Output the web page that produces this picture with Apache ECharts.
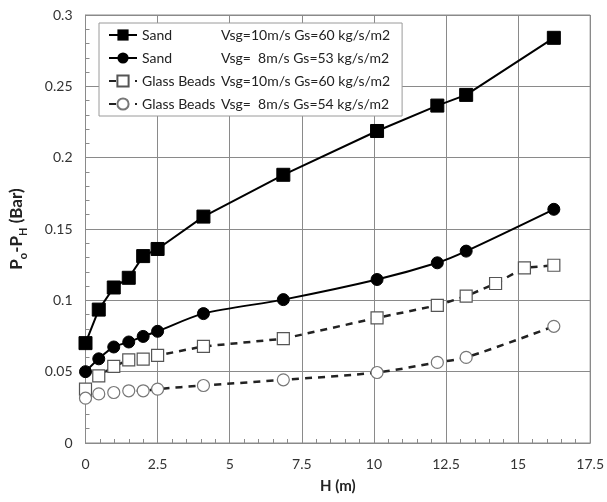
<!DOCTYPE html>
<html><head><meta charset="utf-8">
<script src="https://cdn.jsdelivr.net/npm/echarts@6/dist/echarts.min.js"></script>
<style>html,body{margin:0;padding:0;background:#fff}#c{width:607px;height:502px}</style>
</head><body><div id="c"></div>
<script>
var hMain = [0, 0.46, 0.98, 1.5, 2.0, 2.5, 4.09, 6.86, 10.11, 12.2, 13.2, 16.24];
var hGlass10 = [0, 0.46, 0.98, 1.5, 2.0, 2.5, 4.09, 6.86, 10.11, 12.2, 13.2, 14.22, 15.22, 16.24];
var sand10 = [0.070, 0.0935, 0.109, 0.1158, 0.131, 0.136, 0.1587, 0.188, 0.2187, 0.2365, 0.244, 0.284];
var sand8 = [0.050, 0.059, 0.0673, 0.0708, 0.0747, 0.0783, 0.0907, 0.1005, 0.1146, 0.1263, 0.1345, 0.1638];
var glass10 = [0.0378, 0.047, 0.0537, 0.0583, 0.0588, 0.0614, 0.0677, 0.0731, 0.0877, 0.0965, 0.1029, 0.1118, 0.1228, 0.1246];
var glass8 = [0.0314, 0.0344, 0.0354, 0.0366, 0.0366, 0.0378, 0.0403, 0.0443, 0.0494, 0.0565, 0.060, 0.0818];
var seriesMaterial = ['Sand', 'Sand', 'Glass Beads', 'Glass Beads'];
var seriesVsg = ['Vsg=10m/s', 'Vsg=  8m/s', 'Vsg=10m/s', 'Vsg=  8m/s'];
var seriesGs = ['Gs=60 kg/s/m2', 'Gs=53 kg/s/m2', 'Gs=60 kg/s/m2', 'Gs=54 kg/s/m2'];
var xTicks = {min: 0, max: 17.5, interval: 2.5};
var yTicks = {min: 0, max: 0.3, interval: 0.05};

function pairs(xs, ys){ return ys.map(function(v,i){ return [xs[i], v]; }); }
var names = seriesMaterial.map(function(m,i){ return m + '|' + seriesVsg[i] + '|' + seriesGs[i]; });
var FONT = 'Lato';

var chart = echarts.init(document.getElementById('c'), null, {renderer:'canvas'});
chart.setOption({
  animation: false,
  backgroundColor: '#fff',
  textStyle: {fontFamily: FONT},
  grid: {left: 85, right: 16, top: 15, bottom: 59, show: true, borderColor: '#8a8a8a', borderWidth: 1, containLabel: false},
  legend: {
    orient: 'vertical', left: 99, top: 23,
    backgroundColor: '#fff', borderColor: '#9a9a9a', borderWidth: 1,
    padding: [5, 12, 5, 9], itemGap: 9, itemWidth: 28, itemHeight: 14,
    data: names,
    formatter: function(n){
      var p = n.split('|');
      return '{a|' + p[0] + '}{b|' + p[1] + ' }{c|' + p[2] + '}';
    },
    textStyle: {
      fontFamily: FONT, fontSize: 14, color: '#222',
      rich: {
        a: {width: 79, fontFamily: FONT, fontSize: 14, color: '#222'},
        b: {fontFamily: FONT, fontSize: 14, color: '#222'},
        c: {fontFamily: FONT, fontSize: 14, color: '#222'}
      }
    }
  },
  xAxis: {
    type: 'value', min: xTicks.min, max: xTicks.max, interval: xTicks.interval,
    name: 'H (m)', nameLocation: 'middle', nameGap: 36,
    nameTextStyle: {fontFamily: FONT, fontSize: 15, fontWeight: 'bold', color: '#222'},
    axisLine: {show: true, lineStyle: {color: '#8a8a8a', width: 1}},
    axisTick: {show: true, inside: true, length: 4, lineStyle: {color: '#8a8a8a'}},
    minorTick: {show: true, splitNumber: 5, length: 4, lineStyle: {color: '#8a8a8a'}},
    axisLabel: {fontFamily: FONT, fontSize: 14, color: '#333', margin: 14,
      formatter: function(v){ return String(v); }},
    splitLine: {show: true, lineStyle: {color: '#8a8a8a', width: 1}}
  },
  yAxis: {
    type: 'value', min: yTicks.min, max: yTicks.max, interval: yTicks.interval,
    name: '{m|P}{s|o}{m|-P}{s|H}{m| (Bar)}', nameLocation: 'middle', nameGap: 57,
    nameTextStyle: {
      fontFamily: FONT, fontSize: 17, fontWeight: 'bold', color: '#222',
      rich: {
        m: {fontFamily: FONT, fontSize: 17, fontWeight: 'bold', color: '#222', lineHeight: 24, verticalAlign: 'middle'},
        s: {fontFamily: FONT, fontSize: 11, fontWeight: 'bold', color: '#222', lineHeight: 11, verticalAlign: 'bottom'}
      }
    },
    axisLine: {show: true, lineStyle: {color: '#8a8a8a', width: 1}},
    axisTick: {show: true, inside: true, length: 4, lineStyle: {color: '#8a8a8a'}},
    minorTick: {show: true, splitNumber: 5, length: 4, lineStyle: {color: '#8a8a8a'}},
    axisLabel: {fontFamily: FONT, fontSize: 14, color: '#333', margin: 13,
      formatter: function(v){ return String(Math.round(v*100)/100); }},
    splitLine: {show: true, lineStyle: {color: '#8a8a8a', width: 1}}
  },
  series: [
    {name: names[0], type: 'line', data: pairs(hMain, sand10), symbol: 'rect', symbolSize: 13,
     itemStyle: {color: '#000', borderColor: '#000'}, lineStyle: {color: '#000', width: 2}, z: 5},
    {name: names[1], type: 'line', data: pairs(hMain, sand8), symbol: 'circle', symbolSize: 12, smooth: 0.3,
     itemStyle: {color: '#000', borderColor: '#000'}, lineStyle: {color: '#000', width: 2}, z: 5},
    {name: names[2], type: 'line', data: pairs(hGlass10, glass10), symbol: 'rect', symbolSize: 12,
     itemStyle: {color: '#fff', borderColor: '#555', borderWidth: 1.2},
     lineStyle: {color: '#222', width: 2.5, type: [7, 6]}, z: 4},
    {name: names[3], type: 'line', data: pairs(hMain, glass8), symbol: 'circle', symbolSize: 12, smooth: 0.3,
     itemStyle: {color: '#fff', borderColor: '#777', borderWidth: 1.2},
     lineStyle: {color: '#222', width: 2.5, type: [7, 6]}, z: 4}
  ]
});
</script></body></html>
